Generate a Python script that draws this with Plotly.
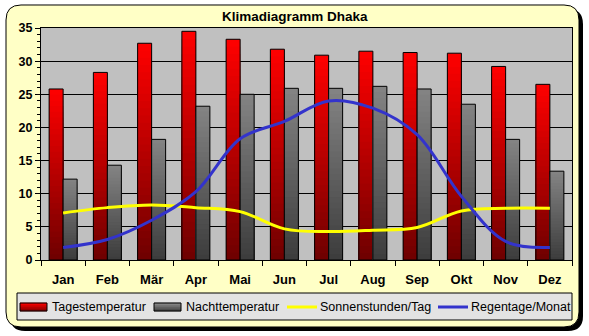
import plotly.graph_objects as go

months = ["Jan", "Feb", "Mär", "Apr", "Mai", "Jun", "Jul", "Aug", "Sep", "Okt", "Nov", "Dez"]
tagestemp = [25.8, 28.3, 32.7, 34.5, 33.3, 31.8, 30.9, 31.5, 31.3, 31.2, 29.2, 26.5]
nachttemp = [12.2, 14.3, 18.2, 23.2, 25.0, 25.9, 25.9, 26.2, 25.8, 23.5, 18.2, 13.4]
sonnen = [7.1, 7.9, 8.3, 7.9, 7.3, 4.7, 4.3, 4.5, 4.9, 7.4, 7.8, 7.8]
regen = [1.9, 3.1, 6.0, 10.3, 18.3, 20.9, 24.0, 22.9, 18.9, 9.6, 2.8, 1.9]
title = "Klimadiagramm Dhaka"
legend_names = ["Tagestemperatur", "Nachttemperatur", "Sonnenstunden/Tag", "Regentage/Monat"]

W, H = 589, 336
L, R, T, B = 41, 17, 28, 76
PW, PH = W - L - R, H - T - B
PB = H - B


def X(px):
    return (px - L) / PW


def Y(py):
    return (PB - py) / PH


def lerp(c0, c1, t):
    return "rgb(%d,%d,%d)" % tuple(round(a + (b - a) * t) for a, b in zip(c0, c1))


fig = go.Figure()

N = 30
for vals, grp, c_bot, c_top in [
    (tagestemp, "t", (110, 0, 0), (255, 0, 0)),
    (nachttemp, "n", (60, 60, 60), (132, 132, 132)),
]:
    # shading: draw full-height first, then successively shorter (darker) bars on top
    for k in range(N):
        frac = (N - k) / N
        fig.add_trace(go.Bar(
            x=months, y=[v * frac for v in vals],
            offsetgroup=grp, marker=dict(color=lerp(c_bot, c_top, (N - k - 0.5) / N), line=dict(width=0)),
            showlegend=False, hoverinfo="skip"))
    fig.add_trace(go.Bar(
        x=months, y=vals, offsetgroup=grp,
        marker=dict(color="rgba(0,0,0,0)", line=dict(color="black", width=1)),
        showlegend=False))

fig.add_trace(go.Scatter(x=months, y=sonnen, mode="lines", line=dict(color="#FFFF00", width=3, shape="spline"),
                         showlegend=False))
fig.add_trace(go.Scatter(x=months, y=regen, mode="lines", line=dict(color="#3333CC", width=3, shape="spline"),
                         showlegend=False))


def rr_path(x0, y0, x1, y1, r):
    pts = [
        ("M", [(x0 + r, y0)]), ("L", [(x1 - r, y0)]), ("Q", [(x1, y0), (x1, y0 + r)]),
        ("L", [(x1, y1 - r)]), ("Q", [(x1, y1), (x1 - r, y1)]), ("L", [(x0 + r, y1)]),
        ("Q", [(x0, y1), (x0, y1 - r)]), ("L", [(x0, y0 + r)]), ("Q", [(x0, y0), (x0 + r, y0)]),
    ]
    s = ""
    for cmd, ps in pts:
        s += cmd + " " + " ".join("%.5f,%.5f" % (X(px), Y(py)) for px, py in ps) + " "
    return s + "Z"


shapes = []
# shadow
shapes.append(dict(type="path", path=rr_path(10, 9, 583, 331, 15), xref="paper", yref="paper",
                   fillcolor="black", line=dict(width=0), layer="below"))
# chart area
shapes.append(dict(type="path", path=rr_path(6, 5, 579, 327, 15), xref="paper", yref="paper",
                   fillcolor="#FFFFC6", line=dict(color="black", width=1), layer="below"))
# plot area bg
shapes.append(dict(type="rect", x0=0, x1=1, y0=0, y1=1, xref="paper", yref="paper",
                   fillcolor="#C0C0C0", line=dict(width=0), layer="below"))
# legend box
shapes.append(dict(type="rect", x0=X(17), x1=X(572), y0=Y(293), y1=Y(320), xref="paper", yref="paper",
                   fillcolor="#E3E3E3", line=dict(color="black", width=1), layer="below"))

annotations = [dict(text="<b>" + title + "</b>", x=X(294.5), y=Y(16), xref="paper", yref="paper",
                    showarrow=False, xanchor="center", yanchor="middle",
                    font=dict(family="Liberation Sans, Arial", size=13.5, color="black"))]

ly = 307
# bar swatches
for (sx0, sx1), (cb, ct) in zip([(20, 47), (154, 181)], [((120, 0, 0), (255, 0, 0)), ((60, 60, 60), (140, 140, 140))]):
    n = 4
    for i in range(n):
        y0 = 311 - (i * 8 / n)
        y1 = 311 - ((i + 1) * 8 / n)
        shapes.append(dict(type="rect", x0=X(sx0), x1=X(sx1), y0=Y(y0 + 0.3), y1=Y(y1 - 0.3), xref="paper", yref="paper",
                           fillcolor=lerp(cb, ct, (i + 0.5) / n), line=dict(width=0), layer="above"))
    shapes.append(dict(type="rect", x0=X(sx0), x1=X(sx1), y0=Y(311), y1=Y(303), xref="paper", yref="paper",
                       fillcolor="rgba(0,0,0,0)", line=dict(color="black", width=1), layer="above"))
# line swatches
for (sx0, sx1), col in zip([(287, 317), (438, 468)], ["#FFFF00", "#3333CC"]):
    shapes.append(dict(type="line", x0=X(sx0), x1=X(sx1), y0=Y(ly), y1=Y(ly), xref="paper", yref="paper",
                       line=dict(color=col, width=3), layer="above"))

for name, tx in zip(legend_names, [50, 184, 318, 469]):
    annotations.append(dict(text=name, x=X(tx), y=Y(ly), xref="paper", yref="paper", showarrow=False,
                            xanchor="left", yanchor="middle",
                            font=dict(family="Liberation Sans, Arial", size=12.5, color="black")))

fig.update_layout(
    width=W, height=H, margin=dict(l=L, r=R, t=T, b=B, pad=0),
    paper_bgcolor="white", plot_bgcolor="#C0C0C0",
    barmode="group", bargap=0.367, bargroupgap=0,
    shapes=shapes, annotations=annotations, showlegend=False,
    font=dict(family="Liberation Sans, Arial", color="black"),
)
fig.update_xaxes(type="category", categoryorder="array", categoryarray=months,
                 showline=True, linecolor="black", linewidth=1, mirror=True,
                 ticks="outside", tickson="boundaries", ticklen=5, tickcolor="black", tickwidth=1,
                 showgrid=False, ticklabelstandoff=7,
                 tickfont=dict(family="Liberation Sans, Arial", size=13, color="black", weight="bold"))
fig.update_yaxes(range=[0, 35], dtick=5, tick0=0,
                 showline=True, linecolor="black", linewidth=1, mirror=True,
                 ticks="outside", ticklen=5, tickcolor="black", tickwidth=1,
                 showgrid=True, gridcolor="black", gridwidth=1, zeroline=False,
                 minor=dict(dtick=1, ticks="outside", ticklen=3, tickcolor="black", showgrid=False),
                 tickfont=dict(family="Liberation Sans, Arial", size=12.5, color="black", weight="bold"))

fig.write_html("out.html")
